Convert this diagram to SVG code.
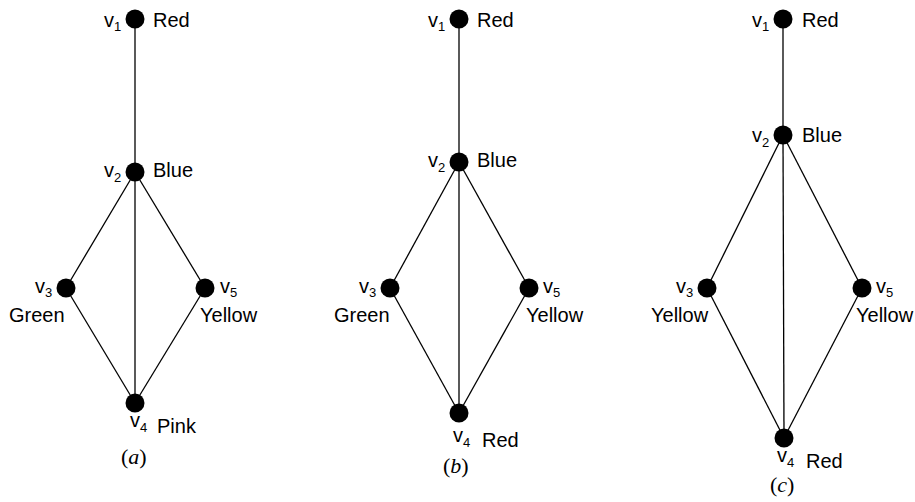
<svg xmlns="http://www.w3.org/2000/svg" width="915" height="502" viewBox="0 0 915 502">
<style>
.e{stroke:#000;stroke-width:1.3;fill:none}
.n{fill:#000}
.t{font-family:"Liberation Sans",Arial,sans-serif;font-size:20px;fill:#000}
.s{font-size:13px}
.c{font-family:"Liberation Serif","Times New Roman",serif;font-size:22px;fill:#000}
.i{font-style:italic}
</style>
<rect width="915" height="502" fill="#fff"/>
<g id="connectors">
<line class="e" x1="135" y1="19" x2="135" y2="172"/>
<line class="e" x1="135" y1="172" x2="66" y2="288"/>
<line class="e" x1="135" y1="172" x2="205" y2="288"/>
<line class="e" x1="135" y1="172" x2="135" y2="403"/>
<line class="e" x1="66" y1="288" x2="135" y2="403"/>
<line class="e" x1="205" y1="288" x2="135" y2="403"/>
<line class="e" x1="459" y1="19" x2="459" y2="162"/>
<line class="e" x1="459" y1="162" x2="390" y2="288"/>
<line class="e" x1="459" y1="162" x2="529" y2="288"/>
<line class="e" x1="459" y1="162" x2="459" y2="413"/>
<line class="e" x1="390" y1="288" x2="459" y2="413"/>
<line class="e" x1="529" y1="288" x2="459" y2="413"/>
<line class="e" x1="783" y1="19" x2="783" y2="135"/>
<line class="e" x1="783" y1="135" x2="707" y2="288"/>
<line class="e" x1="783" y1="135" x2="862" y2="288"/>
<line class="e" x1="783" y1="135" x2="784" y2="438"/>
<line class="e" x1="707" y1="288" x2="784" y2="438"/>
<line class="e" x1="862" y1="288" x2="784" y2="438"/>
</g>
<g id="a-v1"><circle class="n" cx="135" cy="19" r="9.5"/><text class="t" x="104" y="27">v<tspan class="s" dy="4">1</tspan></text><text class="t" x="153" y="27">Red</text></g>
<g id="a-v2"><circle class="n" cx="135" cy="172" r="9.5"/><text class="t" x="104" y="177">v<tspan class="s" dy="5">2</tspan></text><text class="t" x="153" y="177">Blue</text></g>
<g id="a-v3"><circle class="n" cx="66" cy="288" r="9.5"/><text class="t" x="35" y="293">v<tspan class="s" dy="4">3</tspan></text><text class="t" x="9" y="322">Green</text></g>
<g id="a-v5"><circle class="n" cx="205" cy="288" r="9.5"/><text class="t" x="220" y="293">v<tspan class="s" dy="4">5</tspan></text><text class="t" x="200" y="322">Yellow</text></g>
<g id="a-v4"><circle class="n" cx="135" cy="403" r="9.5"/><text class="t" x="130" y="427">v<tspan class="s" dy="5">4</tspan></text><text class="t" x="157" y="433">Pink</text></g>
<g id="a-caption"><text class="c" x="121" y="464">(<tspan class="i">a</tspan>)</text></g>
<g id="b-v1"><circle class="n" cx="459" cy="19" r="9.5"/><text class="t" x="428" y="27">v<tspan class="s" dy="4">1</tspan></text><text class="t" x="477" y="27">Red</text></g>
<g id="b-v2"><circle class="n" cx="459" cy="162" r="9.5"/><text class="t" x="428" y="167">v<tspan class="s" dy="5">2</tspan></text><text class="t" x="477" y="167">Blue</text></g>
<g id="b-v3"><circle class="n" cx="390" cy="288" r="9.5"/><text class="t" x="359" y="293">v<tspan class="s" dy="4">3</tspan></text><text class="t" x="334" y="322">Green</text></g>
<g id="b-v5"><circle class="n" cx="529" cy="288" r="9.5"/><text class="t" x="543" y="293">v<tspan class="s" dy="4">5</tspan></text><text class="t" x="526" y="322">Yellow</text></g>
<g id="b-v4"><circle class="n" cx="459" cy="413" r="9.5"/><text class="t" x="453" y="442">v<tspan class="s" dy="5">4</tspan></text><text class="t" x="482" y="447">Red</text></g>
<g id="b-caption"><text class="c" x="443" y="473">(<tspan class="i">b</tspan>)</text></g>
<g id="c-v1"><circle class="n" cx="783" cy="19" r="9.5"/><text class="t" x="752" y="27">v<tspan class="s" dy="4">1</tspan></text><text class="t" x="802" y="27">Red</text></g>
<g id="c-v2"><circle class="n" cx="783" cy="135" r="9.5"/><text class="t" x="752" y="142">v<tspan class="s" dy="5">2</tspan></text><text class="t" x="802" y="142">Blue</text></g>
<g id="c-v3"><circle class="n" cx="707" cy="288" r="9.5"/><text class="t" x="676" y="293">v<tspan class="s" dy="4">3</tspan></text><text class="t" x="651" y="322">Yellow</text></g>
<g id="c-v5"><circle class="n" cx="862" cy="288" r="9.5"/><text class="t" x="876" y="293">v<tspan class="s" dy="4">5</tspan></text><text class="t" x="856" y="322">Yellow</text></g>
<g id="c-v4"><circle class="n" cx="784" cy="438" r="9.5"/><text class="t" x="777" y="462">v<tspan class="s" dy="5">4</tspan></text><text class="t" x="806" y="468">Red</text></g>
<g id="c-caption"><text class="c" x="770" y="492">(<tspan class="i">c</tspan>)</text></g>
</svg>
